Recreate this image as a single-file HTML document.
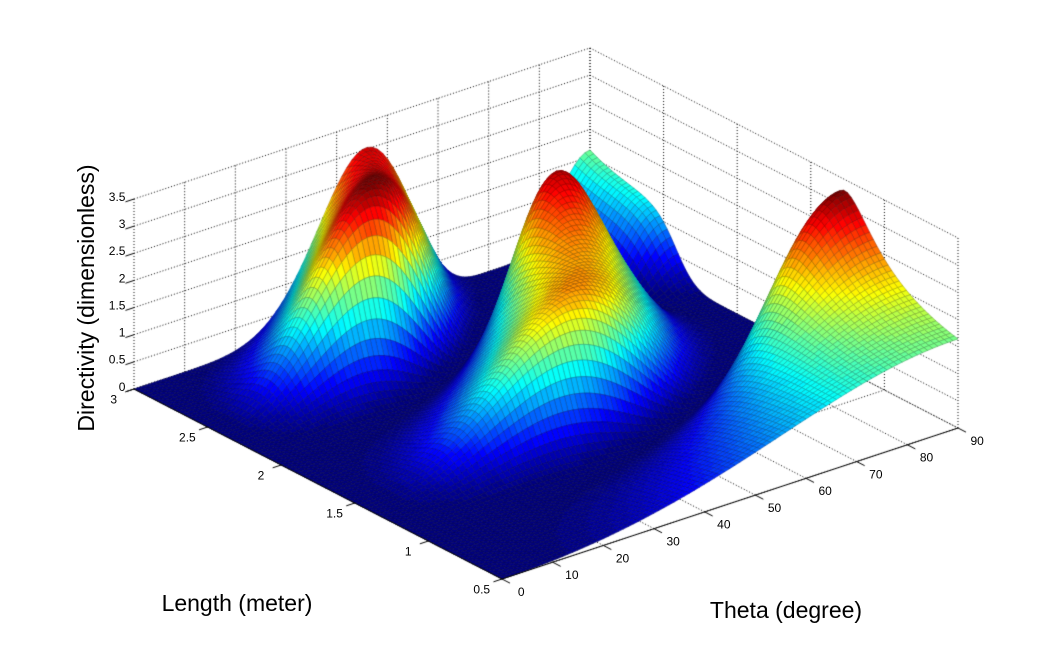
<!DOCTYPE html>
<html><head><meta charset="utf-8"><style>
html,body{margin:0;padding:0;background:#fff;width:1059px;height:652px;overflow:hidden}
#wrap{position:relative;width:1059px;height:652px}
canvas,svg{position:absolute;left:0;top:0}
text{font-family:"Liberation Sans",Arial,sans-serif;fill:#000}
</style></head><body>
<div id="wrap">
<canvas id="cv" width="1059" height="652"></canvas>
<svg id="sv" width="1059" height="652">
<text x="94" y="298" font-size="23" text-anchor="middle" transform="rotate(-90 94 298)">Directivity (dimensionless)</text>
<text x="237" y="611" font-size="23" text-anchor="middle">Length (meter)</text>
<text x="786" y="618" font-size="23" text-anchor="middle">Theta (degree)</text>
</svg>
</div>
<script>
const thetaTicks=[0,10,20,30,40,50,60,70,80,90];
const lengthTicks=[0.5,1,1.5,2,2.5,3];
const zTicks=[0,0.5,1,1.5,2,2.5,3,3.5];
const thetaRange=[0,90];
const lengthRange=[0.5,3];
const zRange=[0,3.5];
const thetaSteps=90, lengthSteps=100;

const F=[502,579], EX=[456,-151], EY=[-368,-190], ZS=190/3.5;
function P(t,L,z){const a=(t-thetaRange[0])/(thetaRange[1]-thetaRange[0]);const b=(L-lengthRange[0])/(lengthRange[1]-lengthRange[0]);
 return [F[0]+a*EX[0]+b*EY[0], F[1]+a*EX[1]+b*EY[1]-z*ZS];}
function U(th,L){const s=Math.sin(th);if(Math.abs(s)<1e-6)return 0;const v=(Math.cos(Math.PI*L*Math.cos(th))-Math.cos(Math.PI*L))/s;return v*v;}
function directivity(thDeg,L,norm){return 2*U(thDeg*Math.PI/180,L)/norm;}
function normOf(L){let s=0,n=400;for(let k=0;k<n;k++){const th=(k+0.5)*Math.PI/n;s+=U(th,L)*Math.sin(th)*Math.PI/n;}return s;}
function jet(v){v=Math.max(0,Math.min(1,v));v=Math.min(63,Math.floor(v*64))/63;
 const r=Math.max(0,Math.min(1,1.5-Math.abs(4*v-3))),g=Math.max(0,Math.min(1,1.5-Math.abs(4*v-2))),b=Math.max(0,Math.min(1,1.5-Math.abs(4*v-1)));return 'rgb('+Math.round(r*255)+','+Math.round(g*255)+','+Math.round(b*255)+')';}

const cv=document.getElementById('cv'),ctx=cv.getContext('2d');
ctx.strokeStyle='#000';ctx.lineWidth=1;ctx.setLineDash([1,2]);
function line(p,q){ctx.beginPath();ctx.moveTo(p[0],p[1]);ctx.lineTo(q[0],q[1]);ctx.stroke();}
const L1=lengthRange[1],T1=thetaRange[1],Z1=zRange[1];
thetaTicks.forEach(t=>{line(P(t,L1,0),P(t,L1,Z1));line(P(t,lengthRange[0],0),P(t,L1,0));});
lengthTicks.forEach(L=>{line(P(T1,L,0),P(T1,L,Z1));line(P(0,L,0),P(T1,L,0));});
zTicks.forEach(z=>{line(P(0,L1,z),P(T1,L1,z));line(P(T1,L1,z),P(T1,lengthRange[0],z));});
ctx.setLineDash([]);
const th=[],Ls=[];for(let i=0;i<=thetaSteps;i++)th.push(thetaRange[0]+(thetaRange[1]-thetaRange[0])*i/thetaSteps);
for(let j=0;j<=lengthSteps;j++)Ls.push(lengthRange[0]+(lengthRange[1]-lengthRange[0])*j/lengthSteps);
const D=[];let dmax=0;
Ls.forEach((L,j)=>{const n=normOf(L);D[j]=th.map(t=>{const d=directivity(t,L,n);if(d>dmax)dmax=d;return d;});});
const quads=[];
for(let j=0;j<lengthSteps;j++)for(let i=0;i<thetaSteps;i++){
 const a=(i+0.5)/thetaSteps,b=(j+0.5)/lengthSteps;quads.push([i,j,151*a+190*b]);}
quads.sort((p,q)=>q[2]-p[2]);
ctx.lineWidth=0.5;
quads.forEach(([i,j])=>{
 const p1=P(th[i],Ls[j],D[j][i]),p2=P(th[i+1],Ls[j],D[j][i+1]),p3=P(th[i+1],Ls[j+1],D[j+1][i+1]),p4=P(th[i],Ls[j+1],D[j+1][i]);
 const c=jet(D[j][i]/dmax);
 ctx.beginPath();ctx.moveTo(p1[0],p1[1]);ctx.lineTo(p2[0],p2[1]);ctx.lineTo(p3[0],p3[1]);ctx.lineTo(p4[0],p4[1]);ctx.closePath();
 ctx.fillStyle=c;ctx.fill();ctx.strokeStyle=c;ctx.stroke();
 ctx.strokeStyle='rgba(0,0,0,0.4)';ctx.stroke();
});
ctx.strokeStyle='#000';ctx.lineWidth=1;
line(P(0,lengthRange[0],0),P(T1,lengthRange[0],0));
line(P(0,lengthRange[0],0),P(0,L1,0));
const sv=document.getElementById('sv'),NS='http://www.w3.org/2000/svg';
function txt(x,y,s,anchor,name){const e=document.createElementNS(NS,'text');e.setAttribute('x',x);e.setAttribute('y',y);e.setAttribute('font-size','12');e.setAttribute('text-anchor',anchor);e.textContent=s;
 
 
 sv.appendChild(e);}
const dl=[368/ Math.hypot(368,190)*9,190/Math.hypot(368,190)*9];
thetaTicks.forEach(t=>{const p=P(t,lengthRange[0],0);line(p,[p[0]+dl[0],p[1]+dl[1]]);txt(p[0]+dl[0]*1.9+4,p[1]+dl[1]*1.9+9,String(t),'middle','theta-tick-label');});
const dt=[-456/Math.hypot(456,151)*9,151/Math.hypot(456,151)*9];
lengthTicks.forEach(L=>{const p=P(0,L,0);line(p,[p[0]+dt[0],p[1]+dt[1]]);txt(p[0]+dt[0]*1.9-4,p[1]+dt[1]*1.9+9,String(L),'middle','length-tick-label');});
zTicks.forEach(z=>{const p=P(0,L1,z);line(p,[p[0]+dt[0],p[1]+dt[1]]);txt(p[0]+dt[0]+0,p[1]+dt[1]-1,String(z),'end','z-tick-label');});
</script>
</body></html>
